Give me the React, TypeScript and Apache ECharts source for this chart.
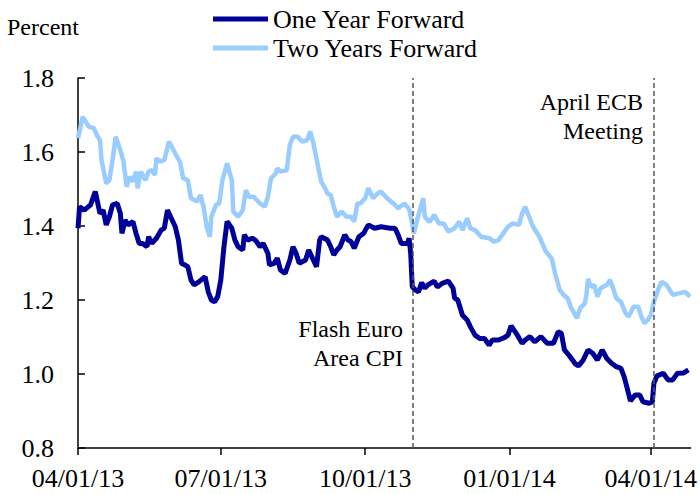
import React, { useEffect, useRef } from "react";
import * as echarts from "echarts";

const START_DATE = "2013-04-01";
const END_DATE = "2014-04-26";
const tickDates = ["2013-04-01", "2013-07-01", "2013-10-01", "2014-01-01", "2014-04-01"];
const eventDates = ["2013-10-31", "2014-04-03"];
const eventLabels = ["Flash Euro\nArea CPI", "April ECB\nMeeting"];
const seriesNames = ["One Year Forward", "Two Years Forward"];
const yMin = 0.8;
const yMax = 1.8;
const yStep = 0.2;

// days since 2013-04-01
const oneYearDays = [
  0, 1, 4, 8, 11, 14, 16, 18, 20, 22,
  25, 27, 28, 30, 32, 35, 37, 39, 41, 44,
  45, 47, 50, 53, 55, 57, 59, 62, 64, 66,
  68, 70, 72, 74, 77, 81, 83, 85, 87, 89,
  91, 93, 95, 98, 100, 102, 105, 106, 108, 111,
  113, 116, 118, 121, 122, 125, 127, 129, 132, 135,
  137, 139, 141, 145, 147, 149, 152, 154, 155, 159,
  161, 163, 165, 167, 170, 172, 174, 176, 179, 182,
  185, 189, 193, 199, 202, 204, 206, 210, 211, 212,
  213, 215, 217, 219, 221, 223, 227, 229, 232, 236,
  239, 240, 242, 245, 248, 250, 253, 256, 259, 262,
  264, 268, 272, 274, 276, 280, 283, 285, 288, 291,
  295, 299, 303, 306, 308, 310, 313, 317, 319, 322,
  325, 328, 331, 334, 337, 340, 343, 346, 348, 350,
  352, 355, 358, 360, 364, 366, 367, 369, 373, 376,
  379, 382, 386, 389,
];
const oneYearValues = [
  1.394, 1.452, 1.443, 1.457, 1.493, 1.434, 1.443, 1.403, 1.425, 1.457,
  1.461, 1.434, 1.380, 1.416, 1.403, 1.412, 1.380, 1.353, 1.353, 1.344,
  1.371, 1.353, 1.367, 1.389, 1.394, 1.443, 1.425, 1.398, 1.362, 1.299,
  1.295, 1.290, 1.254, 1.241, 1.249, 1.263, 1.222, 1.200, 1.195, 1.209,
  1.254, 1.344, 1.412, 1.394, 1.362, 1.344, 1.335, 1.376, 1.362, 1.367,
  1.362, 1.344, 1.353, 1.326, 1.295, 1.299, 1.313, 1.281, 1.272, 1.308,
  1.344, 1.326, 1.299, 1.308, 1.335, 1.317, 1.290, 1.362, 1.371, 1.362,
  1.344, 1.322, 1.335, 1.344, 1.376, 1.362, 1.358, 1.340, 1.371, 1.380,
  1.403, 1.394, 1.398, 1.394, 1.394, 1.376, 1.353, 1.353, 1.367, 1.326,
  1.236, 1.227, 1.222, 1.247, 1.232, 1.241, 1.251, 1.235, 1.245, 1.251,
  1.232, 1.205, 1.200, 1.159, 1.146, 1.128, 1.105, 1.096, 1.096, 1.078,
  1.092, 1.092, 1.099, 1.105, 1.130, 1.105, 1.083, 1.092, 1.101, 1.087,
  1.101, 1.083, 1.083, 1.114, 1.110, 1.065, 1.050, 1.027, 1.022, 1.038,
  1.065, 1.056, 1.038, 1.065, 1.042, 1.029, 1.020, 1.015, 0.993, 0.961,
  0.927, 0.943, 0.943, 0.925, 0.921, 0.925, 0.975, 0.995, 1.002, 0.984,
  0.984, 1.002, 1.003, 1.011,
];

const twoYearDays = [
  0, 3, 7, 10, 12, 14, 15, 18, 20, 22,
  24, 27, 29, 31, 33, 35, 37, 38, 40, 43,
  45, 47, 49, 50, 52, 55, 58, 62, 65, 67,
  70, 72, 76, 78, 80, 82, 84, 85, 88, 90,
  92, 95, 98, 99, 102, 105, 107, 109, 112, 116,
  119, 121, 123, 126, 127, 129, 133, 135, 137, 140,
  143, 146, 148, 150, 153, 155, 157, 159, 161, 163,
  165, 168, 171, 174, 176, 178, 180, 183, 185, 188,
  191, 193, 197, 201, 204, 208, 211, 213, 214, 217,
  220, 221, 224, 227, 230, 233, 236, 240, 243, 245,
  248, 250, 253, 257, 262, 265, 268, 271, 274, 277,
  281, 283, 285, 287, 290, 294, 298, 302, 304, 307,
  310, 312, 314, 318, 320, 323, 324, 325, 327, 329,
  331, 333, 337, 339, 341, 343, 346, 349, 351, 354,
  357, 359, 361, 363, 365, 367, 370, 372, 375, 379,
  383, 387, 390,
];
const twoYearValues = [
  1.637, 1.695, 1.668, 1.665, 1.646, 1.632, 1.578, 1.515, 1.524, 1.578,
  1.641, 1.605, 1.574, 1.506, 1.533, 1.520, 1.547, 1.502, 1.547, 1.524,
  1.547, 1.551, 1.538, 1.583, 1.574, 1.578, 1.628, 1.596, 1.573, 1.529,
  1.524, 1.475, 1.466, 1.484, 1.452, 1.398, 1.371, 1.425, 1.457, 1.461,
  1.524, 1.569, 1.524, 1.439, 1.425, 1.443, 1.497, 1.479, 1.479, 1.461,
  1.452, 1.479, 1.529, 1.542, 1.556, 1.547, 1.551, 1.619, 1.641, 1.641,
  1.628, 1.632, 1.655, 1.624, 1.560, 1.520, 1.506, 1.488, 1.484, 1.452,
  1.425, 1.439, 1.425, 1.425, 1.412, 1.461, 1.461, 1.475, 1.502, 1.475,
  1.488, 1.493, 1.475, 1.461, 1.448, 1.461, 1.446, 1.407, 1.380, 1.430,
  1.475, 1.425, 1.411, 1.430, 1.407, 1.407, 1.385, 1.394, 1.412, 1.389,
  1.421, 1.394, 1.389, 1.371, 1.367, 1.358, 1.362, 1.380, 1.398, 1.407,
  1.403, 1.434, 1.452, 1.430, 1.398, 1.371, 1.332, 1.311, 1.272, 1.227,
  1.211, 1.205, 1.181, 1.151, 1.178, 1.191, 1.214, 1.257, 1.235, 1.241,
  1.209, 1.232, 1.241, 1.254, 1.232, 1.205, 1.195, 1.164, 1.155, 1.182,
  1.182, 1.155, 1.137, 1.146, 1.159, 1.195, 1.232, 1.249, 1.241, 1.214,
  1.218, 1.222, 1.209,
];

const DAY = 86400000;
const toTs = (s: string) => {
  const [y, m, d] = s.split("-").map(Number);
  return Date.UTC(y, m - 1, d);
};
const START_TS = toTs(START_DATE);
const toDay = (s: string) => Math.round((toTs(s) - START_TS) / DAY);
const pad = (n: number) => (n < 10 ? "0" + n : "" + n);
const fmtDay = (dayNum: number) => {
  const d = new Date(START_TS + Math.round(dayNum) * DAY);
  return pad(d.getUTCMonth() + 1) + "/" + pad(d.getUTCDate()) + "/" + pad(d.getUTCFullYear() % 100);
};
const buildSeries = (days: number[], vals: number[]) => {
  const n = Math.min(days.length, vals.length);
  const out: [number, number][] = [];
  for (let i = 0; i < n; i++) out.push([days[i], vals[i]]);
  return out;
};

const FONT = "Liberation Serif, Times New Roman, serif";
const DARK = "#000099";
const LIGHT = "#99CCFF";

export default function App() {
  const ref = useRef<HTMLDivElement>(null);
  useEffect(() => {
    if (!ref.current) return;
    const chart = echarts.init(ref.current, null, { renderer: "svg" });
    const tickDays = tickDates.map(toDay);
    chart.setOption({
      animation: false,
      backgroundColor: "#fff",
      grid: { left: 78, right: 7, top: 78, bottom: 46, containLabel: false },
      legend: {
        orient: "vertical",
        left: 213,
        top: 6,
        padding: 0,
        itemWidth: 55,
        itemHeight: 5,
        itemGap: 3,
        icon: "rect",
        data: seriesNames,
        textStyle: { fontFamily: FONT, fontSize: 26, color: "#000", lineHeight: 26 },
      },
      xAxis: {
        type: "value",
        min: 0,
        max: toDay(END_DATE) + 0.4,
        axisLine: { show: true, lineStyle: { color: "#000", width: 1.5 } },
        axisTick: { show: true, customValues: tickDays, length: 7, lineStyle: { color: "#000", width: 1.5 } },
        axisLabel: {
          customValues: tickDays,
          formatter: (v: number) => fmtDay(v),
          fontFamily: FONT,
          fontSize: 26,
          color: "#000",
          margin: 17,
        },
        splitLine: { show: false },
      },
      yAxis: {
        type: "value",
        min: yMin,
        max: yMax,
        interval: yStep,
        axisLine: { show: true, lineStyle: { color: "#000", width: 1.5 } },
        axisTick: { show: true, inside: true, length: 7, lineStyle: { color: "#000", width: 1.5 } },
        axisLabel: {
          formatter: (v: number) => v.toFixed(1),
          fontFamily: FONT,
          fontSize: 26,
          color: "#000",
          margin: 24,
        },
        splitLine: { show: false },
      },
      series: [
        {
          name: seriesNames[0],
          type: "line",
          data: buildSeries(oneYearDays, oneYearValues),
          showSymbol: false,
          symbol: "none",
          color: DARK,
          lineStyle: { color: DARK, width: 5 },
          z: 4,
        },
        {
          name: seriesNames[1],
          type: "line",
          data: buildSeries(twoYearDays, twoYearValues),
          showSymbol: false,
          symbol: "none",
          color: LIGHT,
          lineStyle: { color: LIGHT, width: 4.5 },
          z: 3,
          markLine: {
            silent: true,
            symbol: ["none", "none"],
            label: { show: false },
            lineStyle: { type: [5, 3], color: "#555", width: 1.5 },
            data: eventDates.map((d) => ({ xAxis: toDay(d) })),
          },
        },
      ],
      graphic: [
        {
          type: "text",
          x: 7,
          y: 27,
          style: { text: "Percent", fontFamily: FONT, fontSize: 24, fill: "#000", verticalAlign: "middle" },
        },
        {
          type: "text",
          x: 403,
          y: 314.5,
          style: {
            text: eventLabels[0],
            fontFamily: FONT,
            fontSize: 24,
            lineHeight: 29,
            fill: "#000",
            align: "right",
            verticalAlign: "top",
          },
        },
        {
          type: "text",
          x: 643,
          y: 87.5,
          style: {
            text: eventLabels[1],
            fontFamily: FONT,
            fontSize: 24,
            lineHeight: 29,
            fill: "#000",
            align: "right",
            verticalAlign: "top",
          },
        },
      ],
    });
    return () => chart.dispose();
  }, []);
  return <div ref={ref} style={{ position: "fixed", left: 0, top: 0, width: 700, height: 494 }} />;
}
